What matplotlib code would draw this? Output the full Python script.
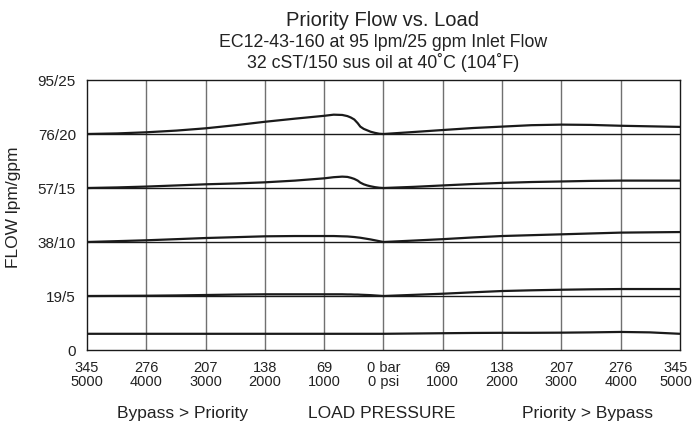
import matplotlib
matplotlib.use("Agg")
import matplotlib.pyplot as plt
from matplotlib.transforms import ScaledTranslation

plt.rcParams['font.family'] = ['Liberation Sans', 'DejaVu Sans']

# Load pressure (bar); negative = Bypass > Priority side, positive = Priority > Bypass side
pressure = [-345, -310, -276, -241, -207, -172, -138, -103, -69, -58, -48, -42, -38, -34,
            -30, -27, -23, -19, -15, -10, -5, 0,
            35, 69, 104, 138, 172, 207, 241, 276, 310, 345]

flow_76 = [76.0, 76.2, 76.6, 77.2, 78.0, 79.1, 80.3, 81.4, 82.4, 82.8, 82.7, 82.3, 81.8, 81.1,
           79.8, 78.6, 77.8, 77.3, 76.8, 76.4, 76.1, 76.0,
           76.7, 77.4, 78.1, 78.6, 79.1, 79.3, 79.2, 78.9, 78.7, 78.5]
flow_57 = [57.0, 57.2, 57.5, 57.9, 58.3, 58.6, 59.0, 59.6, 60.4, 60.8, 61.0, 60.9, 60.6, 60.2,
           59.6, 58.9, 58.3, 57.9, 57.6, 57.3, 57.1, 57.0,
           57.4, 57.9, 58.4, 58.8, 59.1, 59.3, 59.5, 59.6, 59.6, 59.6]
flow_38 = [38.0, 38.3, 38.6, 39.0, 39.4, 39.7, 40.0, 40.1, 40.1, 40.1, 40.0, 39.95, 39.85, 39.75,
           39.6, 39.5, 39.3, 39.1, 38.9, 38.6, 38.3, 38.0,
           38.5, 39.0, 39.6, 40.1, 40.4, 40.7, 41.0, 41.3, 41.4, 41.5]
flow_19 = [19.0, 19.05, 19.1, 19.2, 19.35, 19.5, 19.6, 19.6, 19.6, 19.6, 19.6, 19.55, 19.55, 19.5,
           19.5, 19.45, 19.4, 19.35, 19.3, 19.2, 19.1, 19.0,
           19.4, 19.8, 20.3, 20.75, 21.0, 21.2, 21.35, 21.45, 21.45, 21.45]
flow_6 = [5.7, 5.7, 5.7, 5.7, 5.7, 5.7, 5.7, 5.7, 5.7, 5.7, 5.7, 5.7, 5.7, 5.7,
          5.7, 5.7, 5.7, 5.7, 5.7, 5.7, 5.7, 5.7,
          5.8, 5.9, 6.0, 6.05, 6.05, 6.1, 6.2, 6.35, 6.2, 5.7]

series = [flow_76, flow_57, flow_38, flow_19, flow_6]

x_ticks = [-345, -276, -207, -138, -69, 0, 69, 138, 207, 276, 345]
x_labels = ['345\n5000', '276\n4000', '207\n3000', '138\n2000', '69\n1000', '0 bar\n0 psi',
            '69\n1000', '138\n2000', '207\n3000', '276\n4000', '345\n5000']
y_ticks = [0, 19, 38, 57, 76, 95]
y_labels = ['0', '19/5', '38/10', '57/15', '76/20', '95/25']

TXT = '#222222'

fig = plt.figure(figsize=(6.95, 4.23), dpi=100)
ax = fig.add_axes([87/695, 1-350/423, (680-87)/695, (350-80)/423])

ax.set_xlim(-345, 345)
ax.set_ylim(0, 95)

for xv in x_ticks[1:-1]:
    ax.axvline(xv, color='#707070', lw=1.0, zorder=1)
for yv in y_ticks[1:-1]:
    ax.axhline(yv, color='#1a1a1a', lw=1.0, zorder=1)

for s in series:
    ax.plot(pressure, s, color='#1a1a1a', lw=1.6, zorder=3, solid_capstyle='butt')

for sp in ax.spines.values():
    sp.set_color('#1a1a1a')
    sp.set_linewidth(1.0)

ax.set_xticks(x_ticks)
ax.set_xticklabels(x_labels, fontsize=10.5, color=TXT, linespacing=1.0)
ax.set_yticks(y_ticks)
ax.set_yticklabels(y_labels, fontsize=11, color=TXT)
ax.tick_params(axis='both', length=0)
ax.tick_params(axis='y', pad=8)
ax.tick_params(axis='x', pad=8)

# keep the right-most pressure label inside the canvas
last = ax.get_xticklabels()[-1]
last.set_transform(last.get_transform() + ScaledTranslation(-4/100, 0, fig.dpi_scale_trans))

fig.text(14/695, 1-207/423, 'FLOW lpm/gpm', rotation=90, ha='center', va='center',
         fontsize=12.5, color=TXT)

fig.text(383/695, 1-26/423, 'Priority Flow vs. Load', ha='center', va='baseline', fontsize=14.5, color=TXT)
fig.text(383/695, 1-47/423, 'EC12-43-160 at 95 lpm/25 gpm Inlet Flow', ha='center', va='baseline', fontsize=12.8, color=TXT)
fig.text(383/695, 1-68/423, '32 cST/150 sus oil at 40\u02daC (104\u02daF)', ha='center', va='baseline', fontsize=12.8, color=TXT)

fig.text(182/695, 1-418/423, 'Bypass > Priority', ha='center', va='baseline', fontsize=12.5, color=TXT)
fig.text(381.5/695, 1-418/423, 'LOAD PRESSURE', ha='center', va='baseline', fontsize=12.5, color=TXT)
fig.text(587/695, 1-418/423, 'Priority > Bypass', ha='center', va='baseline', fontsize=12.5, color=TXT)

fig.savefig('out.png', dpi=100)
